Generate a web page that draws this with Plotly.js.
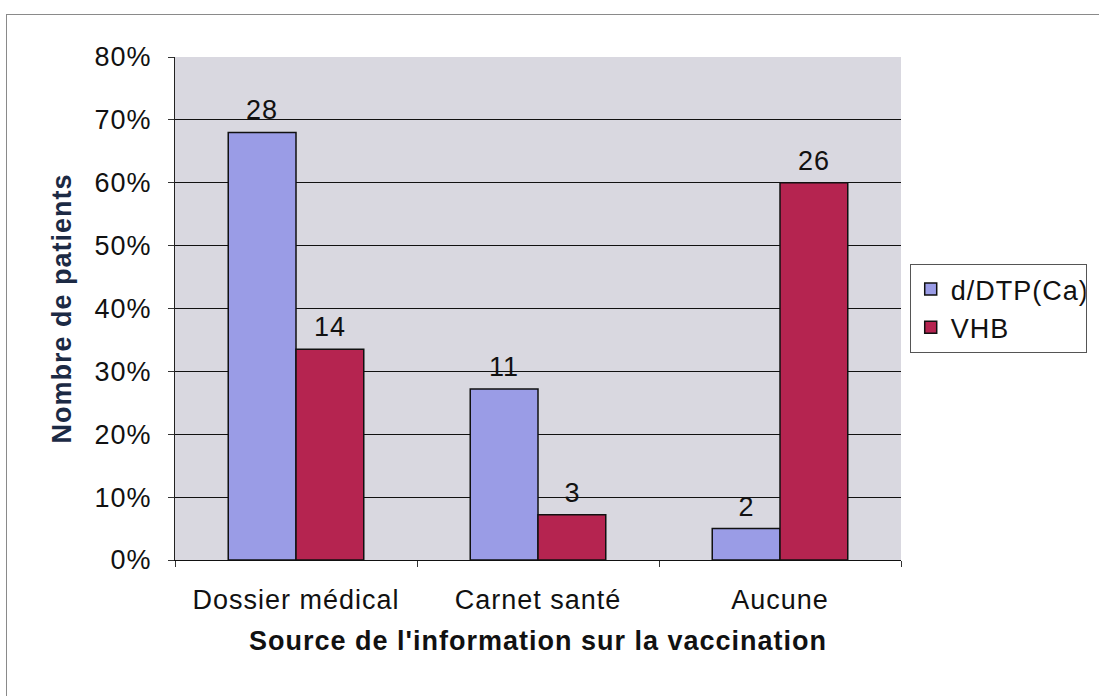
<!DOCTYPE html>
<html><head><meta charset="utf-8">
<script src="https://cdn.plot.ly/plotly-3.0.1.min.js"></script>
<style>
html,body{margin:0;padding:0;background:#fff;}
#frame{position:absolute;left:6px;top:14px;width:1110px;height:700px;border:1px solid #8a8a8a;box-sizing:border-box;}
#chart{position:absolute;left:0;top:0;width:1099px;height:696px;}
#chart text{letter-spacing:1px;}
</style></head>
<body>
<div id="frame"></div>
<div id="chart"></div>
<script>
const categories = ["Dossier médical", "Carnet santé", "Aucune"];
const dtpPercent = [68, 27.2, 5];
const vhbPercent = [33.5, 7.2, 60];
const dtpCounts = ["28", "11", "2"];
const vhbCounts = ["14", "3", "26"];
const seriesNames = ["d/DTP(Ca)", "VHB"];
const yTicks = [0, 10, 20, 30, 40, 50, 60, 70, 80];

const FAM = "Arial, Liberation Sans, sans-serif";
const font = {family: FAM, size: 27, color: "#111"};

const traces = [
  {type: "bar", name: seriesNames[0], x: categories, y: dtpPercent,
   marker: {color: "#9a9ce6", line: {color: "#111", width: 1.5}}},
  {type: "bar", name: seriesNames[1], x: categories, y: vhbPercent,
   marker: {color: "#b52450", line: {color: "#111", width: 1.5}}}
];

const annotations = [];
categories.forEach((c, i) => {
  annotations.push({x: c, y: dtpPercent[i], text: dtpCounts[i], showarrow: false,
    xref: "x", yref: "y", xanchor: "center", yanchor: "bottom", xshift: -34, yshift: 5, font: font});
  annotations.push({x: c, y: vhbPercent[i], text: vhbCounts[i], showarrow: false,
    xref: "x", yref: "y", xanchor: "center", yanchor: "bottom", xshift: 34, yshift: 5, font: font});
});

const layout = {
  width: 1099, height: 696,
  margin: {l: 175, r: 194, t: 57, b: 136},
  paper_bgcolor: "rgba(0,0,0,0)",
  plot_bgcolor: "#d9d8e0",
  font: font,
  barmode: "group",
  bargap: 0.44,
  bargroupgap: 0,
  showlegend: true,
  legend: {x: 1.012, xanchor: "left", y: 0.5, yanchor: "middle",
    bordercolor: "#555", borderwidth: 1, bgcolor: "#fff",
    font: {family: FAM, size: 27, color: "#111"},
    itemwidth: 30, tracegroupgap: 2},
  xaxis: {
    tickson: "boundaries", ticks: "outside", ticklen: 6, tickcolor: "#333",
    showline: true, linecolor: "#111", linewidth: 1,
    showgrid: false, ticklabelstandoff: 16,
    title: {text: "Source de l'information sur la vaccination",
      font: {family: FAM, size: 27, color: "#111", weight: "bold"}, standoff: 16}
  },
  yaxis: {
    range: [0, 80], tickvals: yTicks, ticktext: yTicks.map(v => v + "%"),
    ticks: "outside", ticklen: 6, tickcolor: "#333",
    showline: true, linecolor: "#222", linewidth: 1, ticklabelstandoff: 11,
    showgrid: true, gridcolor: "#111", gridwidth: 1, zeroline: false,
    title: {text: "Nombre de patients",
      font: {family: FAM, size: 27, color: "#1c2a44", weight: "bold"}, standoff: 18}
  },
  annotations: annotations
};

Plotly.newPlot("chart", traces, layout, {displayModeBar: false, staticPlot: true});
</script>
</body></html>
